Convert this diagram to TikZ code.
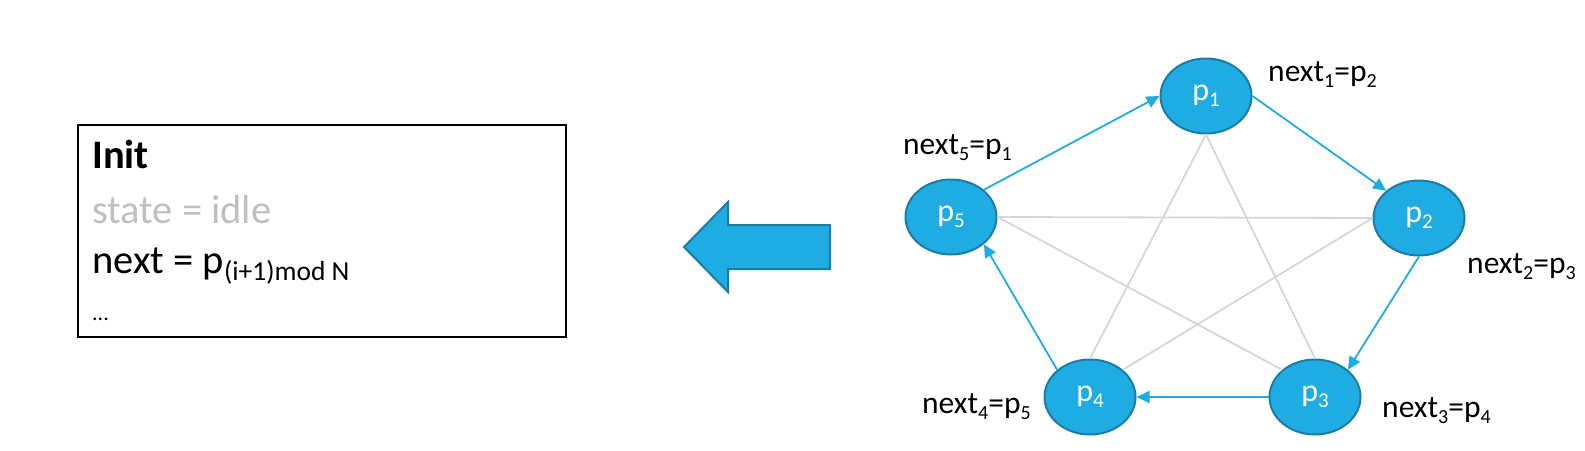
\documentclass[tikz,border=0pt]{standalone}
\usepackage{fontspec}
\setmainfont{Carlito}
\usetikzlibrary{shapes.geometric,arrows.meta}
\definecolor{nodeblue}{HTML}{1EACE2}
\definecolor{nodeedge}{HTML}{1A7DA5}
\definecolor{linkgray}{HTML}{D6D6D6}
\definecolor{idlegray}{HTML}{BFBFBF}
\newcommand\lbsub[1]{\raisebox{-6pt}{\fontsize{20}{20}\selectfont #1}}
\newcommand\ndsub[1]{\raisebox{-6pt}{\fontsize{21}{21}\selectfont #1}}
\newcommand\bxsub[1]{\raisebox{-7pt}{\fontsize{27.5}{27.5}\selectfont #1}}
\tikzset{
  proc/.style={ellipse, draw=nodeedge, line width=2pt, fill=nodeblue,
    minimum width=91pt, minimum height=75pt, inner sep=0pt,
    text=white, font=\fontsize{32}{32}\selectfont},
  ring/.style={draw=nodeblue, line width=1.8pt, -{Triangle[length=13pt,width=12pt]}},
  chord/.style={draw=linkgray, line width=1.8pt},
  lbl/.style={anchor=base west, inner sep=0pt, font=\fontsize{31.5}{31.5}\selectfont},
  boxtxt/.style={anchor=base west, inner sep=0pt, font=\fontsize{40.5}{41}\selectfont},
  bigarrow/.style={fill=nodeblue, draw=nodeedge, line width=2pt, line join=miter}
}
\begin{document}
\begin{tikzpicture}[x=1pt,y=-1pt]
\useasboundingbox (0,0) rectangle (1585,450);
% init box
\node[draw=black, line width=1.5pt, minimum width=488pt, minimum height=212pt,
      anchor=north west, inner sep=0pt] (box) at (77,124) {};
\node[boxtxt] (init) at (92,168) {\textbf{Init}};
\node[boxtxt, text=idlegray] (state) at (92,223) {state = idle};
\node[boxtxt] (nxt) at (92,273) {next = p\bxsub{(i+1)mod N}};
\node[anchor=base west, inner sep=0pt, font=\fontsize{22}{22}\selectfont] (dots) at (92,320) {...};
% big arrow
\draw[bigarrow] (684,247) -- (728,202) -- (728,225) -- (830,225) -- (830,269)
  -- (728,269) -- (728,292) -- cycle;
% processes
\node[proc] (p1) at (1206,96) {p\ndsub{1}};
\node[proc] (p2) at (1419,218) {p\ndsub{2}};
\node[proc] (p3) at (1315,397) {p\ndsub{3}};
\node[proc] (p4) at (1090,397) {p\ndsub{4}};
\node[proc] (p5) at (951,217) {p\ndsub{5}};
% chords
\draw[chord] (p1.south) -- (p4.north);
\draw[chord] (p1.south) -- (p3.north);
\draw[chord] (p5.east) -- (p2.west);
\draw[chord] (p5.east) -- (p3.north west);
\draw[chord] (p2.west) -- (p4.north east);
% ring
\draw[ring] (p5.north east) -- (p1.west);
\draw[ring] (p1.east) -- (p2.north west);
\draw[ring] (p2.south) -- (p3.north east);
\draw[ring] (p3.west) -- (p4.east);
\draw[ring] (p4.north west) -- (p5.south east);
% labels
\node[lbl] (l1) at (1268,81) {next\lbsub{1}=p\lbsub{2}};
\node[lbl] (l5) at (903,154) {next\lbsub{5}=p\lbsub{1}};
\node[lbl] (l2) at (1467,273) {next\lbsub{2}=p\lbsub{3}};
\node[lbl] (l4) at (922,413) {next\lbsub{4}=p\lbsub{5}};
\node[lbl] (l3) at (1382,417) {next\lbsub{3}=p\lbsub{4}};
\end{tikzpicture}
\end{document}
